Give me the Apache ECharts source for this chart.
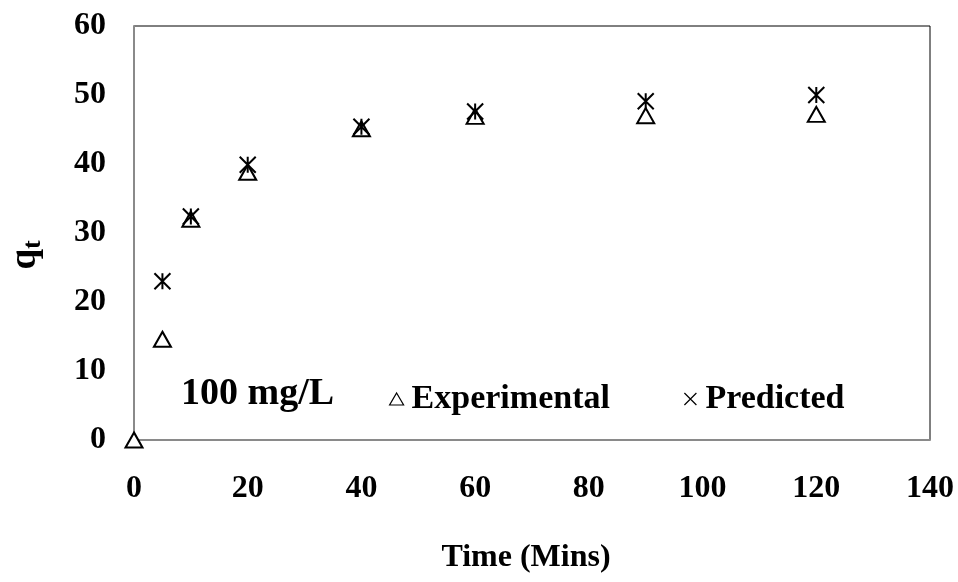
<!DOCTYPE html>
<html>
<head>
<meta charset="utf-8">
<script src="https://cdn.jsdelivr.net/npm/echarts@6/dist/echarts.min.js"></script>
<style>
  html, body { margin: 0; padding: 0; background: #fff; }
  #chart { width: 958px; height: 582px; }
</style>
</head>
<body>
<div id="chart"></div>
<script>
// Adsorption kinetics at 100 mg/L: measured vs model-predicted uptake
const timeMins = [0, 5, 10, 20, 40, 60, 90, 120];
const experimental = [0, 14.6, 32.0, 38.8, 45.1, 46.9, 47.0, 47.2];
const predictedTime = [5, 10, 20, 40, 60, 90, 120];
const predicted = [23.0, 32.4, 39.9, 45.4, 47.6, 49.1, 50.0];
const xTicks = [0, 20, 40, 60, 80, 100, 120, 140];
const yTicks = [0, 10, 20, 30, 40, 50, 60];

const FONT = '"Liberation Serif", "Times New Roman", serif';
const STAR = 'path://M0,0L10,10M10,0L0,10M5,0L5,10';
const CROSS = 'path://M0,0L10,10M10,0L0,10';

const chart = echarts.init(document.getElementById('chart'), null, { renderer: 'canvas' });

chart.setOption({
  animation: false,
  backgroundColor: '#ffffff',
  grid: {
    left: 134, top: 26, right: 28, bottom: 142,
    outerBoundsMode: 'none',
    show: true, borderColor: '#000', borderWidth: 1, backgroundColor: 'transparent'
  },
  xAxis: {
    type: 'value',
    min: xTicks[0], max: xTicks[xTicks.length - 1], interval: 20,
    name: 'Time (Mins)',
    nameLocation: 'middle', nameGap: 102,
    nameTextStyle: { fontFamily: FONT, fontWeight: 'bold', fontSize: 32, color: '#000', padding: [0, 12, 0, 0] },
    axisLine: { show: true, lineStyle: { color: '#8a8a8a', width: 2 } },
    axisTick: { show: false },
    splitLine: { show: false },
    axisLabel: { margin: 33, fontFamily: FONT, fontWeight: 'bold', fontSize: 32, color: '#000' }
  },
  yAxis: {
    type: 'value',
    min: yTicks[0], max: yTicks[yTicks.length - 1], interval: 10,
    name: '{q|q}{t|t}',
    nameLocation: 'middle', nameGap: 88, nameRotate: 90,
    nameTextStyle: {
      padding: [0, 44, 0, 0],
      rich: {
        q: { fontFamily: FONT, fontWeight: 'bold', fontSize: 37, color: '#000' },
        t: { fontFamily: FONT, fontWeight: 'bold', fontSize: 26, color: '#000', padding: [16, 0, 0, 0] }
      }
    },
    axisLine: { show: true, lineStyle: { color: '#8a8a8a', width: 2 } },
    axisTick: { show: false },
    splitLine: { show: false },
    axisLabel: { margin: 28, fontFamily: FONT, fontWeight: 'bold', fontSize: 32, color: '#000' }
  },
  legend: {
    left: 384, top: 377,
    itemWidth: 14, itemHeight: 12, itemGap: 72,
    textStyle: { fontFamily: FONT, fontWeight: 'bold', fontSize: 34, color: '#000', padding: [0, 0, 0, 3] },
    data: [
      { name: 'Experimental', icon: 'triangle',
        itemStyle: { color: '#fff', borderColor: '#000', borderWidth: 1.2 } },
      { name: 'Predicted', icon: CROSS,
        itemStyle: { color: 'none', borderColor: '#000', borderWidth: 1.2 } }
    ]
  },
  graphic: [{
    type: 'text', left: 181, top: 375,
    style: { text: '100 mg/L', fontFamily: FONT, fontWeight: 'bold', fontSize: 38, fill: '#000' }
  }],
  series: [
    {
      name: 'Experimental', type: 'scatter', clip: false,
      symbol: 'triangle', symbolSize: [17, 15],
      itemStyle: { color: '#fff', borderColor: '#000', borderWidth: 2, opacity: 1 },
      data: timeMins.map((t, i) => [t, experimental[i]]),
      z: 3
    },
    {
      name: 'Predicted', type: 'scatter', clip: false,
      symbol: STAR, symbolSize: [16, 16],
      itemStyle: { color: 'none', borderColor: '#000', borderWidth: 2, opacity: 1 },
      data: predictedTime.map((t, i) => [t, predicted[i]]),
      z: 4
    }
  ]
});
</script>
</body>
</html>
